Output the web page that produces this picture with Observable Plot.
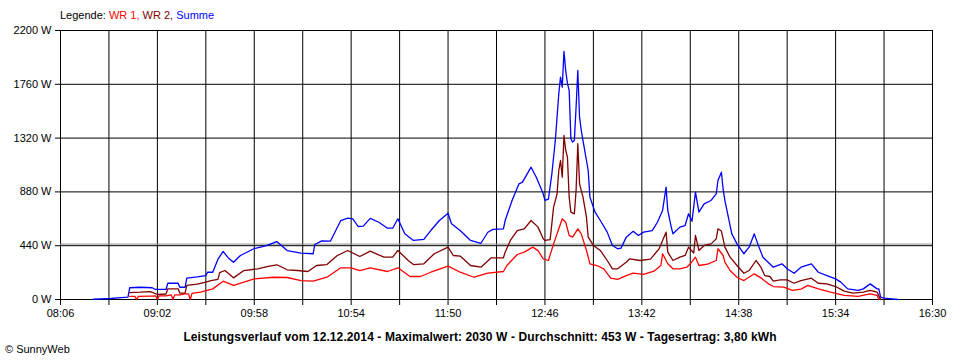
<!DOCTYPE html>
<html><head><meta charset="utf-8">
<script src="https://cdn.jsdelivr.net/npm/d3@7"></script>
<script src="https://cdn.jsdelivr.net/npm/@observablehq/plot@0.6"></script>
<style>
body{margin:0;background:#fff;font-family:"Liberation Sans",Arial,sans-serif;}
#wrap{position:relative;width:960px;height:360px;overflow:hidden;}
#legend{position:absolute;left:60px;top:9px;font-size:11px;color:#000;white-space:nowrap;}
#title{position:absolute;left:0;width:960px;text-align:center;top:330px;font-size:12px;letter-spacing:0.1px;font-weight:bold;color:#000;white-space:nowrap;}
#credit{position:absolute;left:5px;top:343px;font-size:11px;color:#000;}
</style></head><body>
<div id="wrap"><div id="chart"></div>
<div id="legend">Legende: <span style="color:#ff0000">WR 1,</span> <span style="color:#800000">WR 2,</span> <span style="color:#0000ff">Summe</span></div>
<div id="title">Leistungsverlauf vom 12.12.2014 - Maximalwert: 2030 W - Durchschnitt: 453 W - Tagesertrag: 3,80 kWh</div>
<div id="credit">© SunnyWeb</div>
</div>
<script>
// ---- data ----
const xStart = "08:06";
const xEnd = "16:30";
const xGridTimes = ["08:06","08:34","09:02","09:30","09:58","10:26","10:54","11:22","11:50","12:18","12:46","13:14","13:42","14:10","14:38","15:06","15:34","16:02","16:30"];
const xTickLabels = ["08:06","09:02","09:58","10:54","11:50","12:46","13:42","14:38","15:34","16:30"];
const yTicks = [0, 440, 880, 1320, 1760, 2200];
const average = 453;

const wr1Times = ["08:46","08:49","08:50","08:51","08:58","09:01","09:02","09:03","09:07","09:10","09:11","09:12","09:15","09:18","09:20","09:21","09:22","09:27","09:34","09:40","09:46","09:58","10:09","10:17","10:25","10:32","10:40","10:48","10:54","10:59","11:05","11:15","11:21","11:28","11:34","11:40","11:50","11:57","12:05","12:13","12:22","12:24","12:30","12:34","12:39","12:42","12:45","12:48","12:51","12:54","12:56","12:58","13:00","13:02","13:05","13:07","13:10","13:12","13:16","13:20","13:24","13:28","13:33","13:37","13:43","13:49","13:53","13:54","13:57","14:00","14:04","14:08","14:10","14:13","14:15","14:20","14:25","14:26","14:29","14:30","14:33","14:37","14:41","14:47","14:51","14:55","14:58","15:04","15:09","15:14","15:18","15:24","15:31","15:39","15:47","15:54","15:58","15:59"];
const wr1 = [25,26,0,26,28,29,0,30,30,38,0,38,38,46,46,0,50,60,87,150,115,169,182,180,155,150,182,259,259,237,259,229,259,188,188,223,273,223,182,215,229,278,368,387,428,400,333,319,455,578,660,632,524,510,578,537,401,292,278,251,175,165,196,215,205,232,278,374,292,251,251,264,292,346,278,290,319,415,360,305,237,182,155,210,175,130,106,101,74,85,115,87,60,33,25,46,33,0];

const wr2Times = ["08:46","08:52","08:58","09:02","09:07","09:08","09:14","09:15","09:18","09:19","09:25","09:30","09:33","09:37","09:38","09:41","09:46","09:52","10:00","10:06","10:11","10:17","10:23","10:29","10:34","10:40","10:46","10:52","10:59","11:05","11:13","11:18","11:21","11:27","11:30","11:36","11:42","11:50","11:53","11:57","12:03","12:09","12:15","12:22","12:23","12:26","12:30","12:34","12:38","12:42","12:45","12:46","12:49","12:51","12:53","12:54","12:55","12:56","12:57","12:58","12:59","13:00","13:01","13:03","13:04","13:05","13:06","13:08","13:10","13:11","13:14","13:18","13:22","13:25","13:28","13:33","13:35","13:41","13:47","13:52","13:54","13:56","13:57","14:00","14:04","14:07","14:09","14:12","14:13","14:15","14:18","14:22","14:25","14:26","14:28","14:30","14:33","14:37","14:41","14:44","14:48","14:51","14:53","14:56","14:58","15:02","15:06","15:10","15:14","15:20","15:24","15:29","15:34","15:39","15:44","15:50","15:54","15:58","16:00"];
const wr2 = [57,60,65,41,45,87,87,52,52,115,125,142,155,165,220,237,177,237,251,270,284,243,237,229,278,286,360,401,352,395,346,346,401,319,286,292,374,428,360,355,278,264,341,341,387,483,564,578,646,592,496,483,490,755,864,1055,1137,1000,1342,1219,1164,837,714,701,892,1274,946,837,673,510,442,401,319,251,251,305,333,319,330,415,483,551,387,319,346,360,428,380,524,401,442,455,496,578,560,428,346,278,215,237,319,260,196,188,150,161,161,133,155,174,133,128,106,68,52,60,74,60,0];

const sumTimes = ["08:25","08:29","08:35","08:41","08:45","08:46","08:52","08:59","09:01","09:07","09:08","09:14","09:15","09:18","09:19","09:25","09:30","09:31","09:34","09:37","09:40","09:43","09:46","09:50","09:58","10:05","10:11","10:17","10:25","10:32","10:33","10:37","10:42","10:48","10:52","10:55","10:58","11:01","11:05","11:10","11:15","11:18","11:21","11:25","11:30","11:36","11:40","11:45","11:50","11:52","11:57","12:03","12:09","12:13","12:16","12:22","12:23","12:27","12:31","12:33","12:38","12:41","12:45","12:46","12:48","12:50","12:52","12:54","12:55","12:56","12:57","12:58","12:59","13:00","13:01","13:02","13:03","13:04","13:05","13:06","13:07","13:08","13:11","13:12","13:15","13:18","13:22","13:25","13:28","13:30","13:33","13:37","13:40","13:43","13:48","13:51","13:54","13:56","13:57","13:59","14:00","14:04","14:07","14:09","14:11","14:13","14:15","14:18","14:22","14:25","14:26","14:28","14:29","14:30","14:32","14:34","14:37","14:41","14:44","14:47","14:49","14:52","14:55","14:58","15:03","15:06","15:10","15:14","15:20","15:24","15:29","15:34","15:37","15:41","15:47","15:50","15:54","15:58","15:59","16:00","16:02","16:10"];
const summe = [2,5,8,15,20,96,100,96,82,82,133,133,100,100,175,185,195,223,223,330,393,340,305,360,417,440,474,400,380,374,450,480,477,646,665,660,597,600,663,632,583,583,660,537,483,491,564,646,706,620,564,483,460,550,573,578,646,810,946,960,1082,1000,864,810,820,1028,1300,1683,1819,1737,2030,1873,1767,1710,1315,1287,1300,1573,1873,1491,1382,1300,1055,837,714,646,551,442,415,420,510,559,524,551,564,632,728,919,728,592,537,592,605,701,640,878,714,782,810,864,973,1041,900,810,673,537,455,374,428,537,455,346,305,264,292,251,215,264,292,223,196,169,142,87,74,87,128,87,87,19,11,0];

// ---- build ----
const parse = s => { const [h, m] = s.split(":").map(Number); return new Date(Date.UTC(2014, 11, 12, h, m)); };
const fmt = d3.utcFormat("%H:%M");
const zip = (ts, vs) => ts.map((t, i) => ({t: parse(t), v: vs[i]}));
const dWR1 = zip(wr1Times, wr1);
const dWR2 = zip(wr2Times, wr2);
const dSum = zip(sumTimes, summe);
const grid = xGridTimes.map(parse);

const chart = Plot.plot({
  width: 960, height: 360,
  marginLeft: 60, marginRight: 28, marginTop: 30, marginBottom: 61,
  style: {fontFamily: "Liberation Sans, Arial, sans-serif", fontSize: "11px", color: "black", background: "white"},
  x: {type: "utc", domain: [parse(xStart), parse(xEnd)]},
  y: {domain: [0, 2200]},
  marks: [
    Plot.gridX(grid, {stroke: "black", strokeOpacity: 1}),
    Plot.gridY(yTicks, {stroke: "black", strokeOpacity: 1}),
    Plot.ruleY([average], {stroke: "#8c8c8c", strokeWidth: 1}),
    Plot.axisY(yTicks, {tickSize: 5, tickPadding: 4, tickFormat: d => d + " W", label: null, stroke: "black", fill: "black"}),
    Plot.axisX(grid, {tickSize: 6, tickPadding: 4, tickFormat: d => xTickLabels.includes(fmt(d)) ? fmt(d) : "", label: null, stroke: "black", fill: "black"}),
    Plot.line(dSum, {x: "t", y: "v", stroke: "#0000ff", strokeWidth: 1.3}),
    Plot.line(dWR2, {x: "t", y: "v", stroke: "#800000", strokeWidth: 1.3}),
    Plot.line(dWR1, {x: "t", y: "v", stroke: "#ff0000", strokeWidth: 1.3})
  ]
});
document.getElementById("chart").appendChild(chart);
</script>
</body></html>
